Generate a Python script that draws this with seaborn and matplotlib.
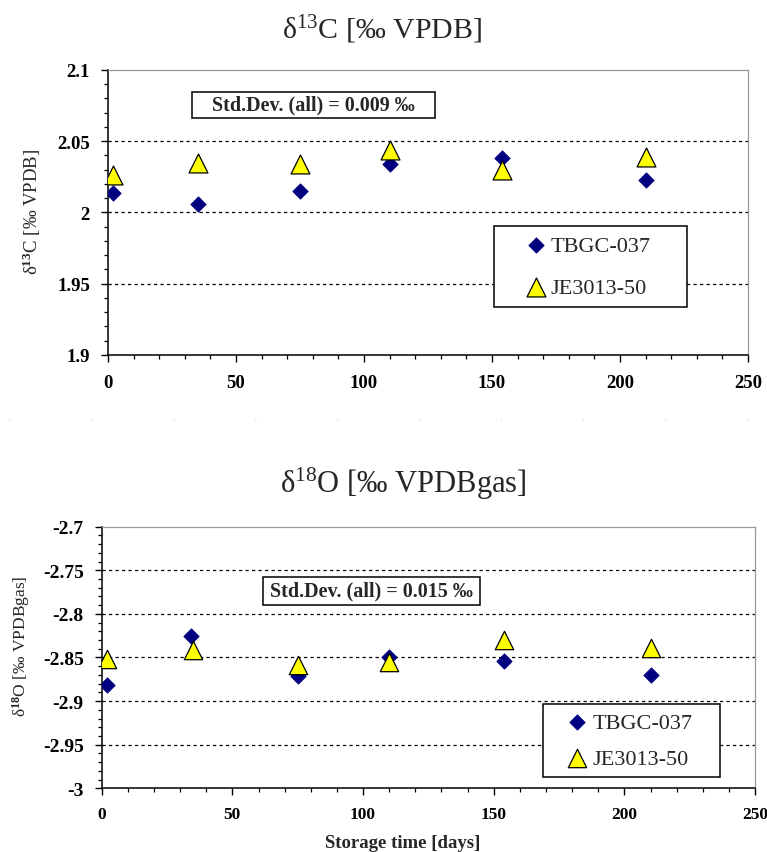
import matplotlib
matplotlib.use("Agg")
import matplotlib.pyplot as plt
from matplotlib.lines import Line2D
from matplotlib.patches import Rectangle
from matplotlib.ticker import MultipleLocator, FuncFormatter
import pandas as pd
import seaborn as sns

# Storage time [days] and measured isotope ratios per reference gas
days_tbgc_c = [2, 35, 75, 110, 154, 210]
d13c_tbgc = [2.014, 2.006, 2.015, 2.034, 2.0385, 2.023]
days_je_c = [2, 35, 75, 110, 154, 210]
d13c_je = [2.026, 2.0345, 2.034, 2.044, 2.030, 2.039]

days_tbgc_o = [2, 34, 75, 110, 154, 210]
d18o_tbgc = [-2.881, -2.825, -2.871, -2.850, -2.8545, -2.870]
days_je_o = [2, 35, 75, 110, 154, 210]
d18o_je = [-2.852, -2.841, -2.859, -2.855, -2.830, -2.839]

series_names = ["TBGC-037", "JE3013-50"]
x_ticks = [0, 50, 100, 150, 200, 250]
c_ticks = [1.9, 1.95, 2.0, 2.05, 2.1]
o_ticks = [-3.0, -2.95, -2.9, -2.85, -2.8, -2.75, -2.7]
std_c = "Std.Dev. (all) = 0.009 ‰"
std_o = "Std.Dev. (all) = 0.015 ‰"

sns.set_style("white")
plt.rcParams["font.family"] = ["Liberation Serif", "DejaVu Serif"]
plt.rcParams["mathtext.fontset"] = "custom"
plt.rcParams["mathtext.rm"] = "Liberation Serif"
plt.rcParams["mathtext.it"] = "Liberation Serif:italic"
plt.rcParams["mathtext.bf"] = "Liberation Serif:bold"

NAVY = "#000080"
YELLOW = "#ffff00"

df_c = pd.concat([
    pd.DataFrame({"days": days_tbgc_c, "value": d13c_tbgc, "gas": series_names[0]}),
    pd.DataFrame({"days": days_je_c, "value": d13c_je, "gas": series_names[1]}),
])
df_o = pd.concat([
    pd.DataFrame({"days": days_tbgc_o, "value": d18o_tbgc, "gas": series_names[0]}),
    pd.DataFrame({"days": days_je_o, "value": d18o_je, "gas": series_names[1]}),
])

fig = plt.figure(figsize=(7.67, 8.53), dpi=100)
ax1 = fig.add_axes([0.1408, 0.5827, 0.8344, 0.3341])
ax2 = fig.add_axes([0.1326, 0.0747, 0.8518, 0.3067])

general = FuncFormatter(lambda v, p: f"{round(v, 4):g}")


def draw_panel(ax, df, ticks, dia_s, tri_s):
    d = df[df["gas"] == series_names[0]]
    t = df[df["gas"] == series_names[1]]
    sns.scatterplot(data=d, x="days", y="value", ax=ax, marker="D", s=dia_s,
                    color=NAVY, edgecolor=NAVY, linewidth=0.5,
                    label=series_names[0], zorder=3)
    sns.scatterplot(data=t, x="days", y="value", ax=ax, marker="^", s=tri_s,
                    color=YELLOW, edgecolor="black", linewidth=0.9,
                    label=series_names[1], zorder=4)
    ax.set_xlim(0, 250)
    ax.set_ylim(ticks[0], ticks[-1])
    ax.set_xticks(x_ticks)
    ax.set_yticks(ticks)
    ax.xaxis.set_minor_locator(MultipleLocator(10))
    ax.yaxis.set_minor_locator(MultipleLocator(0.01))
    ax.xaxis.set_major_formatter(general)
    ax.yaxis.set_major_formatter(general)
    for yv in ticks[1:-1]:
        ax.axhline(yv, color="black", lw=0.9, ls=(0, (2.6, 2.6)), zorder=1)
    for side in ("left", "bottom"):
        ax.spines[side].set_color("black")
        ax.spines[side].set_linewidth(1.1)
    for side in ("top", "right"):
        ax.spines[side].set_color("#9a9a9a")
        ax.spines[side].set_linewidth(0.9)
    ax.tick_params(which="major", direction="out", length=5, width=1, colors="black")
    ax.tick_params(which="minor", direction="out", length=3, width=0.9, colors="black")
    ax.tick_params(which="both", bottom=True, left=True, top=False, right=False)


draw_panel(ax1, df_c, c_ticks, 62, 185)
draw_panel(ax2, df_o, o_ticks, 62, 175)

for lab in ax1.get_xticklabels() + ax1.get_yticklabels():
    lab.set_fontweight("bold")
for lab in ax2.get_xticklabels() + ax2.get_yticklabels():
    lab.set_fontweight("bold")
ax1.tick_params(axis="x", labelsize=13.5, pad=9)
ax1.tick_params(axis="y", labelsize=13.5, pad=8)
ax2.tick_params(axis="x", labelsize=12.5, pad=8)
ax2.tick_params(axis="y", labelsize=14, pad=8)

ax1.set_xlabel("")
ax1.set_ylabel(r"δ$^{\mathbf{13}}$C [‰ VPDB]", fontsize=13.5)
ax1.yaxis.set_label_coords(-0.102, 0.507)
ax2.set_xlabel("Storage time [days]", fontsize=13.5, fontweight="bold")
ax2.xaxis.set_label_coords(0.46, -0.175)
ax2.set_ylabel(r"δ$^{\mathbf{18}}$O [‰ VPDBgas]", fontsize=12.5)
ax2.yaxis.set_label_coords(-0.107, 0.548)

# Panel titles
fig.text(382.5 / 767, 1 - 30 / 853, r"δ$^{13}$C [‰ VPDB]", fontsize=21.5,
         ha="center", va="center")
fig.text(403.5 / 767, 1 - 484 / 853, r"δ$^{18}$O [‰ VPDBgas]", fontsize=22,
         ha="center", va="center")

# Standard deviation boxes
def std_box(ax, x0, y0, x1, y1, text):
    ax.add_patch(Rectangle((x0, y0), x1 - x0, y1 - y0, transform=ax.transAxes,
                           facecolor="white", edgecolor="black", lw=1.1, zorder=5))
    ax.text((x0 + x1) / 2, (y0 + y1) / 2, text, transform=ax.transAxes,
            ha="center", va="center", fontsize=14.5, fontweight="bold", zorder=6)


std_box(ax1, 0.131, 0.832, 0.511, 0.923, std_c)
std_box(ax2, 0.2465, 0.701, 0.579, 0.808, std_o)

# Legends
def place_legend(ax, x0, top, w, pad, spacing, hlen, htpad):
    leg = ax.legend(loc="upper left", bbox_to_anchor=(x0, top - 0.2, w, 0.2),
                    bbox_transform=fig.transFigure, mode="expand",
                    borderaxespad=0, fontsize=16, frameon=True, fancybox=False,
                    borderpad=pad, labelspacing=spacing, handlelength=hlen,
                    handletextpad=htpad, scatterpoints=1)
    frame = leg.get_frame()
    frame.set_edgecolor("black")
    frame.set_linewidth(1.1)
    frame.set_alpha(1)
    leg.set_zorder(7)


place_legend(ax1, 494 / 767, 1 - 227 / 853, 193 / 767, 0.42, 0.95, 2.95, -0.84)
place_legend(ax2, 543 / 767, 1 - 705 / 853, 177 / 767, 0.38, 0.68, 2.32, -0.49)

# Faint dotted separator between the two panels
fig.add_artist(Line2D([9 / 767, 0.995], [1 - 420.7 / 853] * 2, transform=fig.transFigure,
                      color="#cfcfcf", lw=1.0, ls=(0, (0.6, 58.4))))

fig.savefig("out.png", dpi=100, facecolor="white")
